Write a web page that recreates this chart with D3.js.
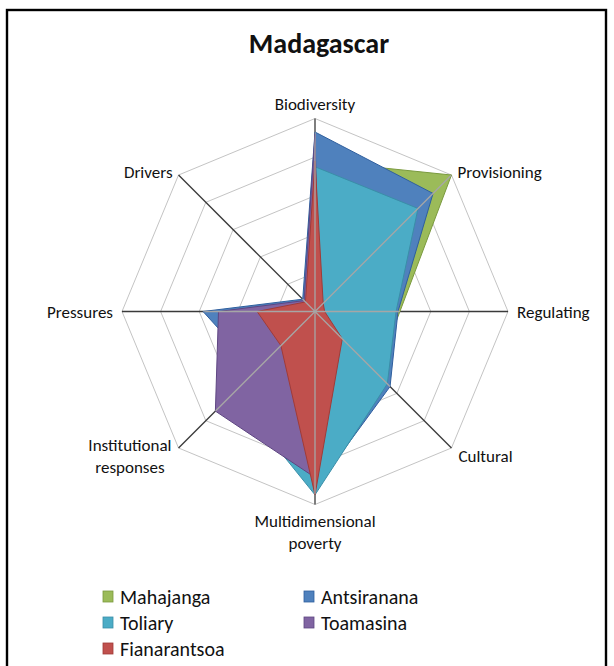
<!DOCTYPE html>
<html>
<head>
<meta charset="utf-8">
<script src="https://cdn.jsdelivr.net/npm/d3@7"></script>
<style>
  body { margin: 0; background: #fff; }
  svg { display: block; }
  text { font-family: Carlito, Calibri, Lato, "Open Sans", sans-serif; fill: #111; }
</style>
</head>
<body>
<svg id="chart" width="614" height="666"></svg>
<script>
// Radar axes, clockwise from the top
const axes = [
  "Biodiversity", "Provisioning", "Regulating", "Cultural",
  "Multidimensional poverty", "Institutional responses", "Pressures", "Drivers"
];

// Regions, in drawing order (first drawn lies at the back)
const regions = ["Mahajanga", "Antsiranana", "Toliary", "Toamasina", "Fianarantsoa"];
const regionColors = ["#9BBB59", "#4F81BD", "#4BACC6", "#8064A2", "#C0504D"];
const regionEdges  = ["#7a9a3e", "#2f5f9e", "#3a8ea8", "#5e4682", "#a03b38"];

// Scores per axis (same order as `axes`)
const mahajanga    = [0.78, 1.00, 0.44, 0.45, 0.90, 0.35, 0.30, 0.05];
const antsiranana  = [0.93, 0.865, 0.43, 0.55, 0.92, 0.43, 0.58, 0.09];
const toliary      = [0.75, 0.755, 0.42, 0.53, 0.95, 0.60, 0.25, 0.04];
const toamasina    = [0.92, 0.03, 0.03, 0.15, 0.86, 0.73, 0.50, 0.08];
const fianarantsoa = [0.78, 0.06, 0.05, 0.20, 0.95, 0.25, 0.30, 0.07];
const regionValues = [mahajanga, antsiranana, toliary, toamasina, fianarantsoa];

// Gridline levels
const gridLevels = [0.2, 0.4, 0.6, 0.8, 1.0];

const chartTitle = "Madagascar";

// ---- layout ----
const cx = 315, cy = 311.5, R = 193;

const svg = d3.select("#chart");

// chart frame
svg.append("rect")
  .attr("x", 7).attr("y", 10).attr("width", 599).attr("height", 680)
  .attr("fill", "none").attr("stroke", "#000").attr("stroke-width", 2.4);

// title
svg.append("text")
  .attr("x", 319).attr("y", 53)
  .attr("text-anchor", "middle")
  .style("font-size", "28px").style("font-weight", "bold")
  .text(chartTitle);

const r = d3.scaleLinear().domain([0, 1]).range([0, R]);
const angle = d3.scaleLinear().domain([0, axes.length]).range([0, 2 * Math.PI]);

const g = svg.append("g").attr("transform", `translate(${cx},${cy})`);

const pt = (i, v) => [Math.sin(angle(i)) * r(v), -Math.cos(angle(i)) * r(v)];

// ring gridlines (octagons)
const radial = d3.lineRadial()
  .angle((d, i) => angle(i))
  .radius(d => r(d))
  .curve(d3.curveLinearClosed);

g.append("g").selectAll("path")
  .data(gridLevels)
  .join("path")
  .attr("d", lvl => radial(axes.map(() => lvl)))
  .attr("fill", "none")
  .attr("stroke", "#c4c4c4")
  .attr("stroke-width", 1);

// spokes beneath the areas
g.append("g").selectAll("line")
  .data(axes)
  .join("line")
  .attr("x1", 0).attr("y1", 0)
  .attr("x2", (d, i) => pt(i, 1)[0])
  .attr("y2", (d, i) => pt(i, 1)[1])
  .attr("stroke", "#3a3a3a")
  .attr("stroke-width", 1.3);

// filled areas
g.append("g").selectAll("path")
  .data(regionValues)
  .join("path")
  .attr("d", d => radial(d))
  .attr("fill", (d, i) => regionColors[i])
  .attr("stroke", (d, i) => regionEdges[i])
  .attr("stroke-width", 1)
  .attr("stroke-linejoin", "miter");

// spokes show through the filled areas in light grey
const clip = svg.append("defs").append("clipPath").attr("id", "areas-clip");
clip.selectAll("path")
  .data(regionValues)
  .join("path")
  .attr("d", d => radial(d));

g.append("g").attr("clip-path", "url(#areas-clip)")
  .selectAll("line")
  .data(axes)
  .join("line")
  .attr("x1", 0).attr("y1", 0)
  .attr("x2", (d, i) => pt(i, 1)[0])
  .attr("y2", (d, i) => pt(i, 1)[1])
  .attr("stroke", "#a6a6a6")
  .attr("stroke-width", 1.3);

// axis labels
const labelGap = [9, 6, 9, 7, 11, 7, 9, 6];
const labelSize = 17;
const lh = 22;
axes.forEach((name, i) => {
  const a = angle(i);
  const s = Math.sin(a), c = -Math.cos(a);
  const [vx, vy] = pt(i, 1);
  const gap = labelGap[i];
  const lines = name.includes(" ") ? name.split(" ") : [name];
  const t = g.append("text").style("font-size", labelSize + "px");
  lines.forEach(ln => t.append("tspan").text(ln));
  const maxW = d3.max(t.selectAll("tspan").nodes(), n => n.getComputedTextLength());

  t.attr("text-anchor", "middle");
  if (Math.abs(s) < 1e-6) {
    // top / bottom axes
    if (c < 0) {
      const yb = vy - gap;
      t.selectAll("tspan").attr("x", vx)
        .attr("y", (d, k) => yb - (lines.length - 1 - k) * lh);
    } else {
      const yb = vy + gap + 11;
      t.selectAll("tspan").attr("x", vx)
        .attr("y", (d, k) => yb + k * lh);
    }
  } else {
    const right = s > 0;
    const x = vx + (right ? gap : -gap);
    const y = vy + (Math.abs(c) < 1e-6 ? 0 : (c < 0 ? -3 : 8));
    const mid = right ? x + maxW / 2 : x - maxW / 2;
    const blockTop = y - (lines.length - 1) * lh / 2;
    t.selectAll("tspan")
      .attr("x", mid)
      .attr("y", (d, k) => blockTop + k * lh + 6);
  }
});

// legend
const legendCols = [103, 304];
const legendRows = [597, 623, 649];
const legend = svg.append("g");
regions.forEach((name, i) => {
  const col = i % 2, row = Math.floor(i / 2);
  const lx = legendCols[col], ly = legendRows[row];
  legend.append("rect")
    .attr("x", lx).attr("y", ly - 6)
    .attr("width", 10).attr("height", 11)
    .attr("fill", regionColors[i])
    .attr("stroke", regionEdges[i]).attr("stroke-width", 0.8);
  legend.append("text")
    .attr("x", lx + 17).attr("y", ly + 7)
    .style("font-size", "20px")
    .text(name);
});
</script>
</body>
</html>
